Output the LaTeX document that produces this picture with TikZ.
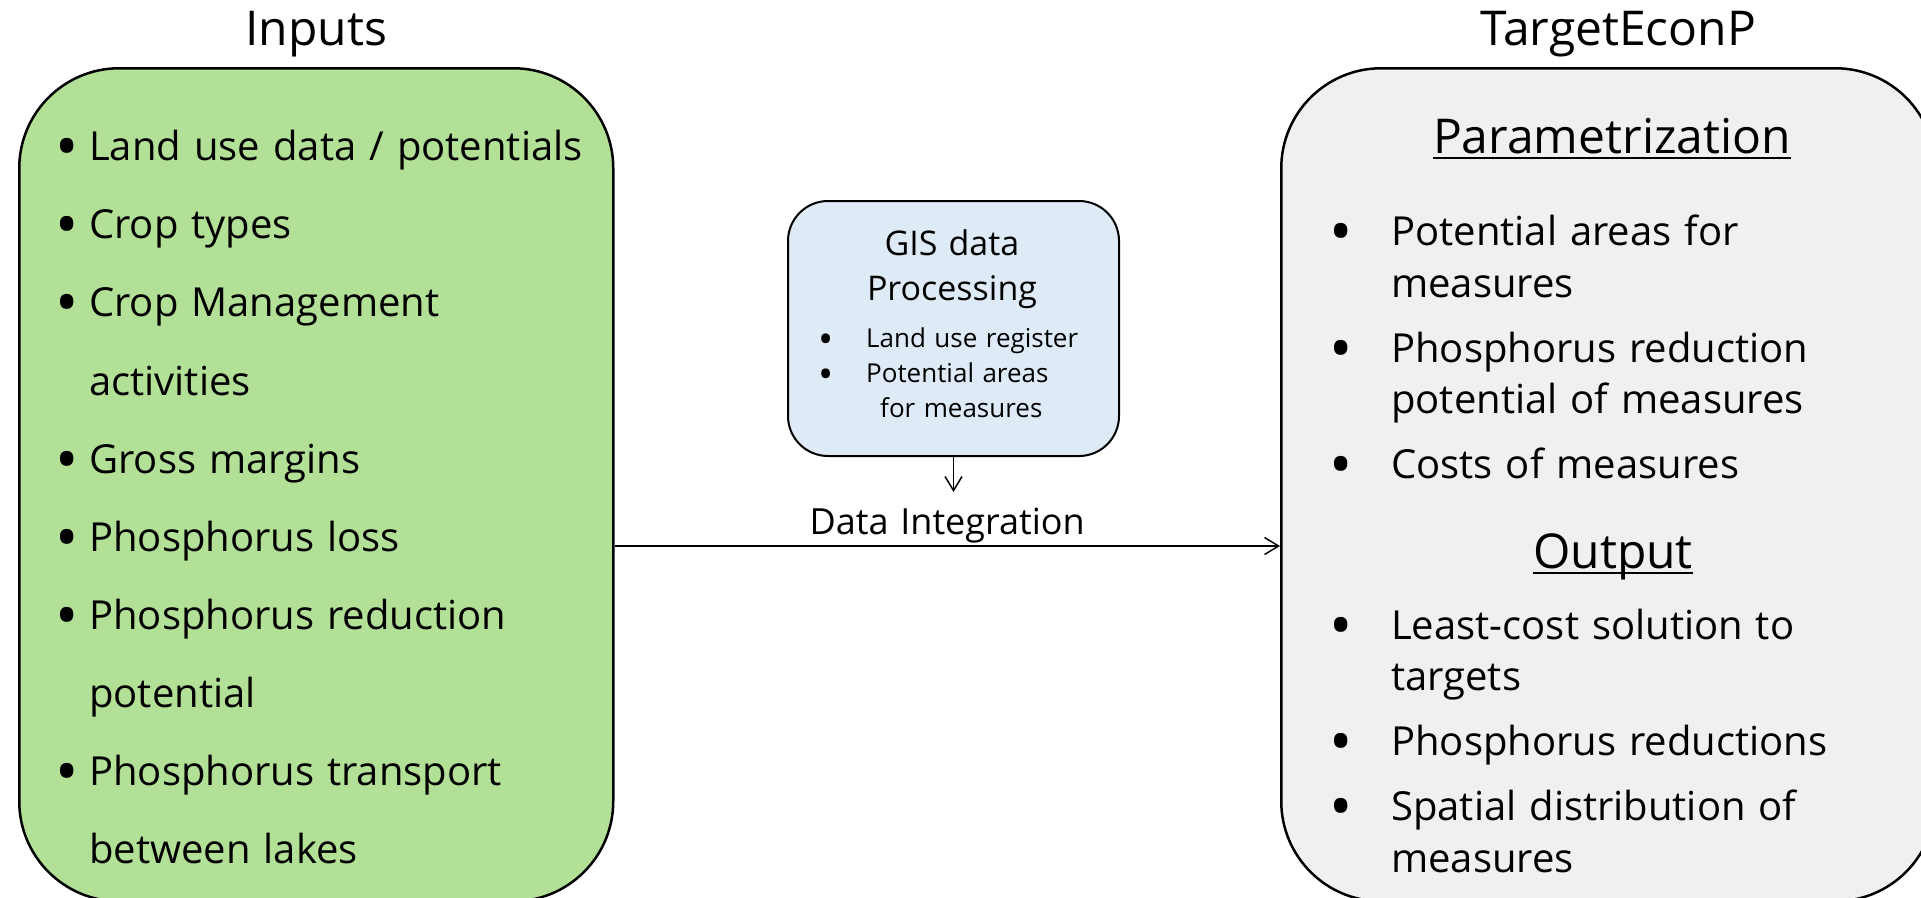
\documentclass[tikz,border=0pt]{standalone}
\usepackage{fontspec}
\setmainfont{Open Sans}[WordSpace=1.25]
\usepackage{xcolor}
\usepackage{graphicx}
\usetikzlibrary{arrows.meta, positioning}
\definecolor{inputgreen}{RGB}{179,224,151}
\definecolor{gisblue}{RGB}{222,235,247}
\definecolor{modelgray}{RGB}{240,240,240}
\newcommand{\bitem}[2]{\makebox[#1][l]{\smash{\raisebox{-0.2em}{\scalebox{1.55}{\textbullet}}}}#2}
\newcommand{\underrule}[1]{\setbox0\hbox{#1}\rlap{\rule[-6pt]{\wd0}{2pt}}\box0}

\begin{document}
\begin{tikzpicture}[
  x=1pt, y=-1pt,
  panel/.style={rectangle, draw, line width=2.5pt, rounded corners=100pt,
    anchor=north west, minimum height=833pt},
  gisbox/.style={rectangle, draw, line width=2pt, rounded corners=40pt,
    fill=gisblue, anchor=north west, minimum width=331pt, minimum height=255pt},
  headtext/.style={inner sep=0pt, font=\fontsize{48}{56}\selectfont},
  itemlist/.style={inner sep=0pt, align=left, anchor=north west},
  arrow/.style={-{Straight Barb[length=14pt, width=17pt]}, line width=1.5pt}
]
\useasboundingbox (0,0) rectangle (1921,897);
\node[panel, fill=inputgreen, minimum width=594pt] (inputs) at (18,67) {};
\node[panel, fill=modelgray, minimum width=654pt] (model) at (1280,67) {};
\node[gisbox] (gis) at (787,200) {};
\node[headtext, above=22pt of inputs, anchor=base] (inputshead) {Inputs};
\node[headtext, above=22pt of model, anchor=base, xshift=10pt] (modelhead) {TargetEconP};
\node[itemlist, font=\fontsize{40}{78.1}\selectfont] (inputlist) at (55.3,130.1) {
\bitem{33.7pt}{Land use data / potentials}\\
\bitem{33.7pt}{Crop types}\\
\bitem{33.7pt}{Crop Management}\\
\hspace*{33.7pt}activities\\
\bitem{33.7pt}{Gross margins}\\
\bitem{33.7pt}{Phosphorus loss}\\
\bitem{33.7pt}{Phosphorus reduction}\\
\hspace*{33.7pt}potential\\
\bitem{33.7pt}{Phosphorus transport}\\
\hspace*{33.7pt}between lakes};
\node[headtext, anchor=base] (paramhead) at (1612,153) {\underrule{Parametrization}};
\node[itemlist, font=\fontsize{40}{51.5}\selectfont] (paramlist) at (1329.3,214.7) {
\bitem{61.7pt}{Potential areas for}\\
\hspace*{61.7pt}measures\\[13.5pt]
\bitem{61.7pt}{Phosphorus reduction}\\
\hspace*{61.7pt}potential of measures\\[13.5pt]
\bitem{61.7pt}{Costs of measures}};
\node[headtext, anchor=base] (outhead) at (1613,568) {\underrule{Output}};
\node[itemlist, font=\fontsize{40}{51.5}\selectfont] (outlist) at (1329.3,608.7) {
\bitem{61.7pt}{Least-cost solution to}\\
\hspace*{61.7pt}targets\\[13.5pt]
\bitem{61.7pt}{Phosphorus reductions}\\[13.5pt]
\bitem{61.7pt}{Spatial distribution of}\\
\hspace*{61.7pt}measures};
\node[inner sep=0pt, align=center, anchor=north, font=\fontsize{34}{45}\selectfont]
  (gishead) at (952,229) {GIS data\\Processing};
\node[itemlist, font=\fontsize{26}{35}\selectfont] (gislist) at (818,328) {
\bitem{48pt}{Land use register}\\
\bitem{48pt}{Potential areas}\\
\hspace*{62pt}for measures};
\coordinate (joint) at (946,546);
\draw[arrow] (inputs.east |- joint) -- node[above=2pt, inner sep=0pt,
  font=\fontsize{36}{42}\selectfont] (integ) {Data Integration} (model.west |- joint);
\draw[arrow, shorten >=15.5pt] (gis.south) -- (gis.south |- integ.north);
\end{tikzpicture}
\end{document}
